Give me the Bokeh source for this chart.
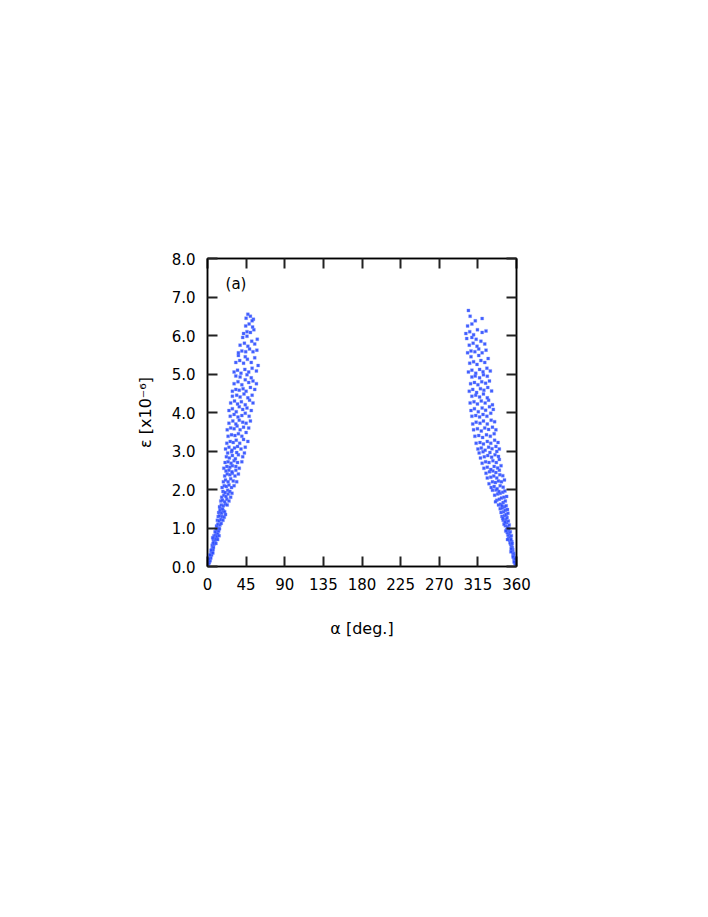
from bokeh.plotting import figure
from bokeh.models import LinearAxis, FixedTicker, Range1d
from bokeh.core.properties import value
from bokeh.embed import file_html
from bokeh.resources import INLINE

# ---------------- data ----------------
x_ticks = [0, 45, 90, 135, 180, 225, 270, 315, 360]
x_tick_labels = ["0", "45", "90", "135", "180", "225", "270", "315", "360"]
y_ticks = [0, 1, 2, 3, 4, 5, 6, 7, 8]
y_tick_labels = ["0.0", "1.0", "2.0", "3.0", "4.0", "5.0", "6.0", "7.0", "8.0"]

alpha_left = [
    0.3, 0.8, 1.2, 1.5, 2.0, 2.2, 2.6, 3.0, 3.1, 3.5, 3.8, 4.0, 4.4, 4.8, 5.0, 5.3, 5.6, 6.0, 6.5, 7.0, 4.2, 2.8, 6.2, 1.8,
    5.5, 6.5, 7.5, 8.0, 6.8, 9.0, 8.5, 10.0, 7.5, 9.5, 11.0, 10.5, 12.0, 8.8, 11.5, 13.0, 12.5, 14.0, 10.0, 7.0, 9.8, 11.8, 13.5, 6.0,
    10.5, 12.0, 14.5, 16.0, 11.5, 13.5, 15.5, 18.0, 12.5, 14.0, 17.0, 19.5, 13.0, 15.0, 16.5, 18.5, 20.0, 14.5, 21.0, 17.5,
    14.0, 16.0, 18.5, 21.0, 23.0, 15.5, 17.5, 20.0, 22.5, 25.0, 16.5, 19.0, 21.5, 24.0, 27.0, 18.0, 20.5, 23.5, 26.0, 28.5,
    17.0, 19.5, 22.0, 25.0, 28.0, 31.0, 18.5, 21.0, 24.0, 27.0, 30.0, 34.0, 20.0, 23.0, 26.0, 29.0, 32.0, 36.0, 21.5, 25.0, 28.5, 33.0,
    19.0, 22.5, 26.0, 29.0, 33.0, 37.0, 20.5, 24.0, 27.5, 31.0, 35.0, 40.0, 22.0, 25.5, 29.0, 32.5, 36.0, 41.0, 23.5, 28.0, 34.0, 43.0,
    21.0, 25.0, 28.5, 31.5, 35.0, 39.0, 44.0, 22.5, 26.5, 30.0, 33.5, 37.5, 42.0, 47.0, 24.0, 28.0, 32.0, 36.0, 40.0, 45.0,
    23.0, 27.0, 31.0, 34.5, 38.0, 42.0, 48.0, 25.0, 29.5, 33.0, 37.0, 41.0, 45.0, 50.0, 26.5, 31.0, 35.5, 40.0, 44.0, 48.5,
    25.0, 29.0, 33.5, 37.0, 41.0, 46.0, 51.0, 27.0, 31.5, 35.0, 39.5, 44.0, 49.0, 53.0, 29.0, 34.0, 38.0, 42.5, 47.0, 52.0,
    29.0, 33.0, 37.0, 41.5, 45.0, 50.0, 55.0, 31.0, 35.5, 40.0, 44.0, 48.0, 53.0, 57.0, 33.0, 38.0, 46.0, 51.0,
    31.0, 35.0, 39.0, 43.5, 48.0, 52.0, 57.0, 59.0, 33.0, 37.5, 42.0, 46.5, 51.0, 55.0, 36.0, 44.0,
    36.0, 40.0, 44.5, 49.0, 53.0, 57.5, 38.0, 43.0, 47.0, 51.5, 55.0, 58.0, 41.0, 46.0,
    42.0, 46.0, 50.0, 54.0, 44.5, 48.5, 52.5, 45.0, 50.0, 53.5, 47.0, 52.0,
]
eps_left = [
    0.02, 0.05, 0.08, 0.12, 0.10, 0.16, 0.20, 0.15, 0.24, 0.28, 0.22, 0.32, 0.36, 0.30, 0.40, 0.45, 0.38, 0.48, 0.44, 0.50, 0.42, 0.30, 0.35, 0.20,
    0.55, 0.60, 0.58, 0.65, 0.70, 0.68, 0.75, 0.72, 0.80, 0.82, 0.78, 0.88, 0.85, 0.90, 0.95, 0.92, 1.00, 0.98, 0.97, 0.62, 0.60, 0.70, 0.80, 0.75,
    1.05, 1.10, 1.08, 1.12, 1.20, 1.18, 1.22, 1.20, 1.30, 1.32, 1.30, 1.28, 1.40, 1.42, 1.38, 1.45, 1.42, 1.48, 1.35, 1.50,
    1.55, 1.60, 1.58, 1.62, 1.60, 1.70, 1.72, 1.68, 1.75, 1.70, 1.80, 1.85, 1.82, 1.88, 1.80, 1.95, 1.92, 1.98, 1.95, 1.90,
    2.05, 2.10, 2.08, 2.12, 2.05, 2.10, 2.20, 2.25, 2.20, 2.28, 2.22, 2.20, 2.35, 2.40, 2.38, 2.42, 2.35, 2.40, 2.48, 2.50, 2.46, 2.50,
    2.55, 2.60, 2.58, 2.62, 2.60, 2.55, 2.70, 2.72, 2.68, 2.75, 2.70, 2.72, 2.85, 2.82, 2.88, 2.80, 2.90, 2.85, 2.95, 2.98, 2.96, 2.95,
    3.05, 3.10, 3.02, 3.08, 3.12, 3.05, 3.10, 3.20, 3.25, 3.22, 3.28, 3.20, 3.30, 3.25, 3.38, 3.42, 3.40, 3.45, 3.38, 3.48,
    3.55, 3.60, 3.58, 3.65, 3.55, 3.62, 3.60, 3.72, 3.78, 3.70, 3.80, 3.75, 3.72, 3.78, 3.90, 3.95, 3.88, 3.92, 3.98, 3.90,
    4.05, 4.10, 4.02, 4.15, 4.08, 4.12, 4.05, 4.25, 4.30, 4.22, 4.28, 4.20, 4.32, 4.25, 4.42, 4.45, 4.40, 4.48, 4.38, 4.45,
    4.55, 4.60, 4.58, 4.62, 4.55, 4.65, 4.60, 4.75, 4.80, 4.72, 4.85, 4.78, 4.82, 4.75, 4.95, 4.92, 4.98, 4.90,
    5.05, 5.10, 5.02, 5.12, 5.05, 5.15, 5.08, 5.22, 5.30, 5.35, 5.28, 5.38, 5.30, 5.42, 5.48, 5.45,
    5.55, 5.60, 5.58, 5.65, 5.58, 5.62, 5.75, 5.80, 5.72, 5.85, 5.78, 5.90, 5.95, 5.98,
    6.05, 6.10, 6.08, 6.15, 6.25, 6.30, 6.22, 6.45, 6.50, 6.42, 6.55, 6.38,
]

alpha_right = [
    359.7, 359.2, 358.8, 358.3, 358.0, 357.5, 357.8, 357.0, 356.6, 356.2, 356.8, 355.8, 355.2, 355.6, 354.8, 354.3, 355.0, 353.8, 357.2, 356.0, 353.5, 358.5,
    354.0, 353.2, 352.5, 354.5, 351.8, 353.0, 350.8, 352.0, 354.0, 350.0, 351.5, 349.2, 352.8, 350.5, 348.5, 351.0, 347.5, 353.5, 349.5, 355.0,
    349.5, 347.0, 351.5, 345.5, 348.5, 350.5, 344.5, 347.5, 349.0, 343.0, 346.0, 348.0, 350.0, 342.0, 345.0, 347.0, 349.5, 341.0, 344.0, 346.5,
    343.5, 346.0, 348.0, 339.0, 341.5, 344.5, 347.0, 337.0, 340.0, 342.5, 345.5, 348.5, 334.5, 338.0, 341.0, 344.0, 346.5, 332.0, 336.0, 339.5, 343.0, 335.5,
    330.5, 334.0, 337.5, 341.0, 344.5, 328.0, 332.0, 335.5, 339.0, 342.5, 346.0, 326.0, 330.0, 333.5, 337.0, 340.5, 344.0, 324.5, 328.5, 332.5, 336.0, 340.0,
    322.0, 326.0, 330.0, 334.0, 338.0, 342.0, 320.0, 324.0, 328.0, 332.5, 336.5, 340.0, 318.0, 322.5, 326.5, 331.0, 335.0, 339.0, 316.5, 321.0, 329.0, 337.0,
    315.0, 319.0, 323.5, 327.5, 331.5, 336.0, 340.0, 313.0, 317.5, 321.5, 326.0, 330.0, 334.5, 338.5, 311.5, 316.0, 320.5, 325.0, 329.5, 334.0,
    310.0, 314.5, 319.0, 323.0, 327.5, 332.0, 336.0, 309.0, 313.0, 317.5, 321.5, 326.0, 330.5, 334.5, 308.0, 312.5, 317.0, 321.0, 325.5, 330.0,
    307.0, 311.0, 315.5, 320.0, 324.0, 328.5, 333.0, 306.0, 310.5, 314.5, 319.0, 323.5, 327.5, 332.0, 308.0, 312.5, 317.0, 321.5, 326.0,
    305.0, 309.0, 313.5, 318.0, 322.0, 326.5, 331.0, 306.5, 311.0, 315.0, 319.5, 324.0, 328.5, 308.0, 312.0, 317.0, 321.5, 326.0,
    304.0, 308.0, 312.5, 317.0, 321.0, 325.5, 329.5, 305.5, 310.0, 314.0, 318.5, 323.0, 327.0, 307.0, 316.0,
    303.0, 307.0, 311.5, 316.0, 320.0, 324.5, 305.0, 309.5, 314.0, 318.5, 323.0, 302.0, 308.0, 313.0,
    301.0, 305.5, 310.0, 314.5, 320.0, 324.5, 303.0, 308.0, 312.0, 320.0, 306.0, 304.0,
]
eps_right = [
    0.02, 0.06, 0.10, 0.08, 0.15, 0.18, 0.24, 0.22, 0.28, 0.30, 0.34, 0.36, 0.40, 0.44, 0.42, 0.48, 0.50, 0.46, 0.12, 0.25, 0.38, 0.20,
    0.55, 0.58, 0.62, 0.65, 0.68, 0.72, 0.75, 0.78, 0.80, 0.82, 0.86, 0.88, 0.90, 0.94, 0.96, 0.99, 0.92, 0.70, 0.70, 0.60,
    1.03, 1.06, 1.08, 1.10, 1.14, 1.18, 1.20, 1.22, 1.27, 1.30, 1.32, 1.35, 1.38, 1.40, 1.42, 1.46, 1.48, 1.50, 1.25, 1.15,
    1.52, 1.55, 1.58, 1.60, 1.62, 1.66, 1.70, 1.72, 1.75, 1.78, 1.80, 1.82, 1.85, 1.88, 1.90, 1.93, 1.96, 1.98, 1.99, 1.95, 1.58, 1.68,
    2.05, 2.08, 2.02, 2.10, 2.06, 2.15, 2.20, 2.18, 2.22, 2.20, 2.25, 2.30, 2.32, 2.35, 2.30, 2.38, 2.36, 2.42, 2.46, 2.48, 2.44, 2.50,
    2.55, 2.58, 2.52, 2.60, 2.56, 2.62, 2.68, 2.72, 2.70, 2.75, 2.70, 2.78, 2.82, 2.85, 2.88, 2.84, 2.90, 2.86, 2.95, 2.98, 2.96, 2.99,
    3.05, 3.08, 3.02, 3.10, 3.06, 3.12, 3.05, 3.20, 3.22, 3.18, 3.25, 3.20, 3.28, 3.22, 3.38, 3.40, 3.35, 3.42, 3.38, 3.45,
    3.55, 3.58, 3.52, 3.60, 3.56, 3.62, 3.55, 3.70, 3.75, 3.72, 3.78, 3.70, 3.80, 3.76, 3.90, 3.92, 3.88, 3.95, 3.90, 3.98,
    4.05, 4.10, 4.02, 4.12, 4.06, 4.15, 4.08, 4.25, 4.28, 4.22, 4.30, 4.25, 4.32, 4.20, 4.42, 4.45, 4.40, 4.48, 4.38,
    4.55, 4.60, 4.52, 4.62, 4.58, 4.65, 4.56, 4.75, 4.78, 4.72, 4.80, 4.76, 4.82, 4.92, 4.95, 4.90, 4.98, 4.94,
    5.05, 5.10, 5.02, 5.12, 5.06, 5.15, 5.08, 5.28, 5.32, 5.25, 5.35, 5.30, 5.40, 5.45, 5.48,
    5.55, 5.60, 5.58, 5.65, 5.55, 5.62, 5.75, 5.80, 5.72, 5.85, 5.78, 5.92, 5.95, 5.90,
    6.05, 6.10, 6.02, 6.15, 6.08, 6.12, 6.25, 6.30, 6.38, 6.44, 6.50, 6.65,
]

panel_label = "(a)"
x_label = "α [deg.]"
y_label = "ε [x10⁻⁶]"

assert len(alpha_left) == len(eps_left)
assert len(alpha_right) == len(eps_right)

# ---------------- figure ----------------
FONT = "DejaVu Sans"

p = figure(
    width=700, height=908,
    frame_width=309, frame_height=308,
    min_border_left=207, min_border_right=184,
    min_border_top=258, min_border_bottom=342,
    x_range=Range1d(0, 360), y_range=Range1d(0, 8),
    output_backend="svg", toolbar_location=None,
    x_axis_location=None, y_axis_location=None,
)
p.grid.visible = False
p.background_fill_color = "white"
p.border_fill_color = "white"
p.outline_line_color = "black"
p.outline_line_width = 1.5

def style_axis(ax, ticks, labels, show_labels):
    ax.ticker = FixedTicker(ticks=ticks)
    ax.major_label_overrides = {t: l for t, l in zip(ticks, labels)}
    ax.minor_tick_line_color = None
    ax.major_tick_in = 10
    ax.major_tick_out = 0
    ax.major_tick_line_width = 2
    ax.major_tick_line_color = "#222222"
    ax.axis_line_color = "black"
    ax.axis_line_width = 1.5
    ax.major_label_text_font = FONT
    ax.major_label_text_font_size = "15px"
    ax.major_label_text_color = "black" if show_labels else None
    ax.major_label_standoff = 12
    ax.axis_label_text_color = "black"

bottom = LinearAxis(axis_label=x_label)
style_axis(bottom, x_ticks, x_tick_labels, True)
bottom.major_label_standoff = 11
bottom.axis_label_text_font = FONT
bottom.axis_label_text_font_size = "16px"
bottom.axis_label_text_font_style = "normal"
bottom.axis_label_standoff = 26
p.add_layout(bottom, "below")

left = LinearAxis(axis_label=y_label)
style_axis(left, y_ticks, y_tick_labels, True)
left.axis_label_text_font = FONT
left.axis_label_text_font_size = "16px"
left.axis_label_text_font_style = "normal"
left.axis_label_standoff = 14
p.add_layout(left, "left")

top = LinearAxis()
style_axis(top, x_ticks, x_tick_labels, False)
top.major_label_text_font_size = "0px"
p.add_layout(top, "above")

right = LinearAxis()
style_axis(right, y_ticks, y_tick_labels, False)
right.major_label_text_font_size = "0px"
p.add_layout(right, "right")

pt_kw = dict(marker="square", size=3, fill_color="#2a4bff", line_color="#7f92ff",
             line_width=0.5, fill_alpha=0.9, line_alpha=0.7)
p.scatter(alpha_left, eps_left, **pt_kw)
p.scatter(alpha_right, eps_right, **pt_kw)

p.text(x=[21.0], y=[7.35], text=[panel_label], text_font=value(FONT),
       text_font_size="15px", text_align="left", text_baseline="middle",
       text_color="black")

open("out.html", "w").write(file_html(p, INLINE))
